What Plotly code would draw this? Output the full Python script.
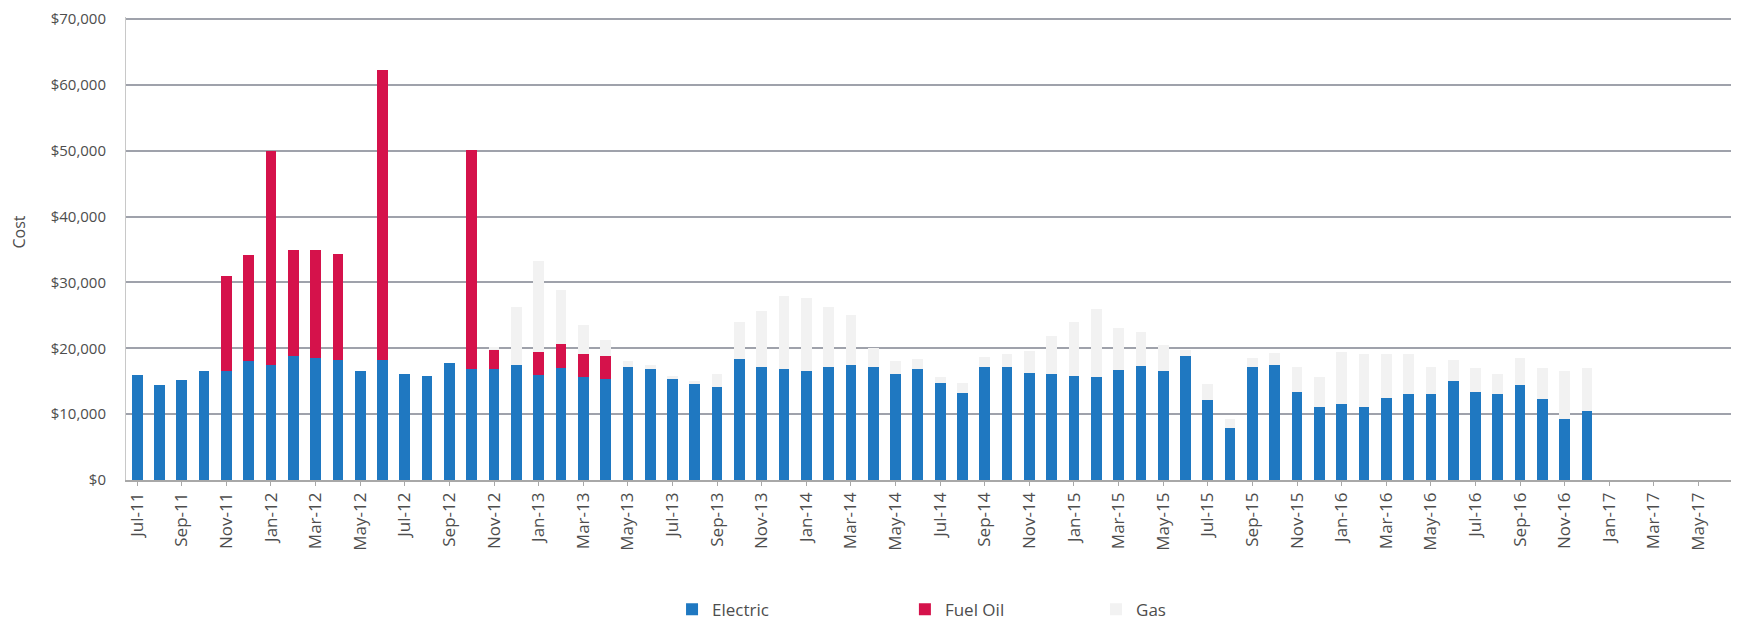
import pandas as pd
import plotly.graph_objects as go

# Month categories (Jul-11 .. Jun-17) and tick labels (every other month)
months = [d.strftime("%b-%y") for d in pd.date_range("2011-07-01", "2017-06-01", freq="MS")]
tick_labels = months[::2]
y_ticks = [0, 10000, 20000, 30000, 40000, 50000, 60000, 70000]
y_tick_text = ["$0", "$10,000", "$20,000", "$30,000", "$40,000", "$50,000", "$60,000", "$70,000"]

# Electric cost, Jul-11 .. Dec-16
electric = [
    16000, 14400, 15200, 16500, 16500, 18000, 17500, 18800, 18600, 18200, 16500, 18200,  # Jul-11..Jun-12
    16100, 15800, 17700, 16900, 16900, 17500, 15900, 17000, 15600, 15300, 17200, 16900,  # Jul-12..Jun-13
    15300, 14600, 14100, 18300, 17200, 16800, 16500, 17200, 17500, 17100, 16100, 16900,  # Jul-13..Jun-14
    14700, 13200, 17200, 17200, 16200, 16100, 15800, 15700, 16700, 17300, 16500, 18800,  # Jul-14..Jun-15
    12100, 7900, 17100, 17400, 13300, 11100, 11500, 11100, 12500, 13100, 13100, 15100,   # Jul-15..Jun-16
    13300, 13100, 14500, 12300, 9300, 10500,                                             # Jul-16..Dec-16
]

# Fuel oil cost, Jul-11 .. Dec-16
fuel_oil = [
    0, 0, 0, 0, 14500, 16200, 32500, 16100, 16300, 16100, 0, 44100,                      # Jul-11..Jun-12
    0, 0, 0, 33200, 2800, 0, 3500, 3600, 3600, 3600, 0, 0,                               # Jul-12..Jun-13
    0, 0, 0, 0, 0, 0, 0, 0, 0, 0, 0, 0,
    0, 0, 0, 0, 0, 0, 0, 0, 0, 0, 0, 0,
    0, 0, 0, 0, 0, 0, 0, 0, 0, 0, 0, 0,
    0, 0, 0, 0, 0, 0,
]

# Gas cost, Jul-11 .. Dec-16
gas = [
    0, 0, 0, 0, 0, 0, 0, 0, 0, 0, 0, 0,                                                  # Jul-11..Jun-12
    0, 0, 0, 0, 500, 8800, 13800, 8200, 4300, 2400, 800, 600,                            # Jul-12..Jun-13
    500, 500, 2000, 5700, 8500, 11100, 11200, 9100, 7500, 3000, 2000, 1500,              # Jul-13..Jun-14
    1000, 1500, 1500, 2000, 3400, 5700, 8200, 10300, 6400, 5200, 4000, 1000,             # Jul-14..Jun-15
    2500, 1300, 1400, 1900, 3800, 4600, 7900, 8100, 6600, 6100, 4000, 3100,              # Jul-15..Jun-16
    3700, 3000, 4000, 4700, 7200, 6500,                                                  # Jul-16..Dec-16
]

n = len(electric)
x_vals = months[:n]

FONT = "Open Sans"
TXT = "#4d4d4d"

fig = go.Figure()
fig.add_trace(go.Bar(name="Electric", x=x_vals, y=electric, marker_color="#1f78c1",
                     marker_line_width=0, legend="legend"))
fig.add_trace(go.Bar(name="Fuel Oil", x=x_vals, y=[v if v else None for v in fuel_oil],
                     marker_color="#d5124b", marker_line_width=0, legend="legend2"))
fig.add_trace(go.Bar(name="Gas", x=x_vals, y=[v if v else None for v in gas],
                     marker_color="#f2f2f2", marker_line_width=0, legend="legend3"))

LEG_Y = -0.280
leg_common = dict(orientation="h", xanchor="left", y=LEG_Y, yanchor="middle",
                  font=dict(size=17, color=TXT), bgcolor="rgba(0,0,0,0)")

# page body has an 8px margin: the figure is sized/offset to compensate
fig.update_layout(
    barmode="stack",
    bargap=0.52,
    width=1731, height=621,
    margin=dict(l=118, r=7, t=9, b=149, autoexpand=False),
    paper_bgcolor="white", plot_bgcolor="white",
    font=dict(family=FONT, color=TXT, size=15),
    showlegend=True,
    legend=dict(x=0.340, **leg_common),
    legend2=dict(x=0.485, **leg_common),
    legend3=dict(x=0.604, **leg_common),
    xaxis=dict(
        type="category", categoryorder="array", categoryarray=months,
        range=[-0.5, len(months) - 0.5], automargin=False,
        tickmode="array", tickvals=tick_labels, ticktext=tick_labels,
        tickangle=-90, tickfont=dict(size=17, color=TXT),
        showline=True, linecolor="#a8a8a8", linewidth=1.5,
        ticks="outside", ticklen=4, tickcolor="#a8a8a8",
        showgrid=False,
    ),
    yaxis=dict(
        range=[0, 70300], tickmode="array", tickvals=y_ticks, ticktext=y_tick_text,
        tickfont=dict(size=15, color=TXT), automargin=False,
        ticklabelstandoff=16, ticklabeloverflow="allow",
        showgrid=True, gridcolor="#9fa2ab", gridwidth=1.6,
        showline=True, linecolor="#c8c8c8", linewidth=1,
        zeroline=False,
    ),
    annotations=[dict(text="Cost", xref="paper", yref="paper", x=-0.0665, y=0.535,
                      textangle=-90, showarrow=False, xanchor="center", yanchor="middle",
                      borderpad=0, font=dict(size=16, color=TXT))],
)

fig.write_html("out.html")
